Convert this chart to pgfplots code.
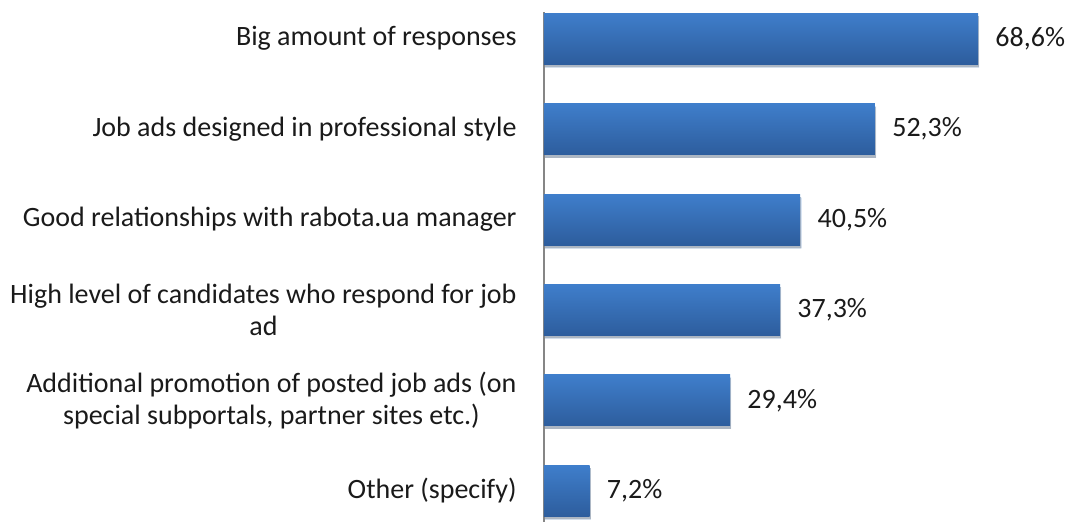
\documentclass[border=0pt]{standalone}
\usepackage{pgfplots}
\pgfplotsset{compat=1.18}
\usepackage{fontspec}
\setmainfont{Carlito}
\usetikzlibrary{shadows}
\definecolor{bartop}{RGB}{63,126,203}
\definecolor{barbot}{RGB}{45,93,157}
\definecolor{axgray}{RGB}{134,134,134}
\definecolor{txt}{RGB}{26,26,26}
\begin{document}
\begin{tikzpicture}
\begin{axis}[
  xbar,
  scale only axis,
  width=266pt, height=255pt,
  xmin=0, xmax=84.08,
  ymin=-0.293, ymax=5.343,
  y dir=reverse,
  axis x line=none,
  axis y line*=left,
  y axis line style={draw=axgray, line width=0.6pt, -},
  ytick={0,1,2,3,4,5},
  major tick length=0pt,
  yticklabels={
    {Big amount of responses},
    {Job ads designed in professional style},
    {Good relationships with rabota.ua manager},
    {High level of candidates who respond for job\\ad},
    {Additional promotion of posted job ads (on\\special subportals, partner sites etc.)},
    {Other (specify)}},
  yticklabel style={align=center, anchor=east, inner sep=0pt, xshift=-13.5pt,
     font=\fontsize{14}{16}\selectfont, text=txt},
  bar width=25.5pt,
  bar shift=0pt,
  /pgf/number format/assume math mode=true,
  nodes near coords={\pgfmathprintnumber[fixed, precision=1, fixed zerofill, use comma]{\pgfplotspointmeta}\%},
  every node near coord/.append style={anchor=west, inner sep=0pt, xshift=8.5pt,
     font=\fontsize{14}{16}\selectfont, text=txt},
  clip=false,
  barstyle/.style={draw=none, top color=bartop, bottom color=barbot,
    drop shadow={shadow xshift=0.6pt, shadow yshift=-1.5pt, opacity=0.2, fill=black}},
]
\addplot[barstyle] coordinates {(68.6,0)};
\addplot[barstyle] coordinates {(52.3,1)};
\addplot[barstyle] coordinates {(40.5,2)};
\addplot[barstyle] coordinates {(37.3,3)};
\addplot[barstyle] coordinates {(29.4,4)};
\addplot[barstyle] coordinates {(7.2,5)};
\end{axis}
\pgfresetboundingbox
\useasboundingbox ([xshift=-272pt]current axis.south west) rectangle ([yshift=6pt]current axis.north east);
\end{tikzpicture}
\end{document}
